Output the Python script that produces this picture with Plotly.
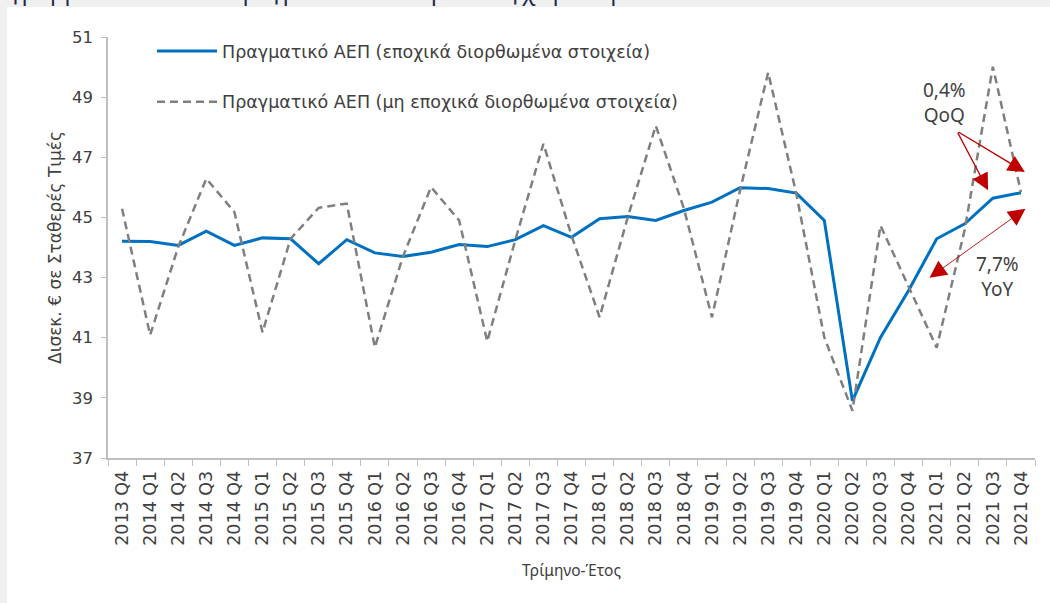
import plotly.graph_objects as go

quarters = ["2013 Q4",
            "2014 Q1", "2014 Q2", "2014 Q3", "2014 Q4",
            "2015 Q1", "2015 Q2", "2015 Q3", "2015 Q4",
            "2016 Q1", "2016 Q2", "2016 Q3", "2016 Q4",
            "2017 Q1", "2017 Q2", "2017 Q3", "2017 Q4",
            "2018 Q1", "2018 Q2", "2018 Q3", "2018 Q4",
            "2019 Q1", "2019 Q2", "2019 Q3", "2019 Q4",
            "2020 Q1", "2020 Q2", "2020 Q3", "2020 Q4",
            "2021 Q1", "2021 Q2", "2021 Q3", "2021 Q4"]

gdp_sa = [44.21,
          44.20, 44.07, 44.54, 44.07,
          44.32, 44.29, 43.46, 44.26,
          43.82, 43.70, 43.84, 44.10,
          44.03, 44.26, 44.73, 44.34,
          44.96, 45.03, 44.90, 45.23,
          45.51, 45.99, 45.96, 45.81,
          44.90, 38.90, 41.01, 42.57,
          44.29, 44.79, 45.64, 45.82]

gdp_nsa = [45.29,
           41.09, 44.02, 46.29, 45.18,
           41.18, 44.29, 45.32, 45.46,
           40.68, 43.70, 46.01, 44.90,
           40.88, 44.25, 47.45, 44.40,
           41.68, 45.00, 48.05, 45.30,
           41.68, 45.90, 49.82, 45.80,
           41.01, 38.57, 44.73, 42.70,
           40.67, 44.60, 50.01, 45.84]

name_sa = "Πραγματικό ΑΕΠ (εποχικά διορθωμένα στοιχεία)"
name_nsa = "Πραγματικό ΑΕΠ (μη εποχικά διορθωμένα στοιχεία)"
title_text = "Διάγραμμα 4: Ελλάδα – Πραγματικό Ακαθάριστο Εγχώριο Προϊόν"

FONT = "DejaVu Sans"
FONT2 = "Noto Sans"
TXT = "#404040"
RED = "#C00000"

fig = go.Figure()
fig.add_trace(go.Scatter(x=quarters, y=gdp_sa, mode="lines", name=name_sa,
                         legendgroup="a",
                         line=dict(color="#0070C0", width=3)))
fig.add_trace(go.Scatter(x=quarters, y=gdp_nsa, mode="lines", name=name_nsa,
                         legendgroup="b",
                         line=dict(color="#7F7F7F", width=2.5, dash="8px,5px")))

W, H = 1050, 603
PW, PH = 927, 421
fig.update_layout(
    width=W, height=H,
    paper_bgcolor="#F0F0F0",
    plot_bgcolor="white",
    margin=dict(l=108, r=15, t=37, b=145),
    font=dict(family=FONT, color=TXT, size=15),
    showlegend=True,
    legend=dict(x=(152 - 108) / PW, y=1 + 4 / PH, xanchor="left", yanchor="top",
                bgcolor="rgba(0,0,0,0)", font=dict(size=17.5, color=TXT, family=FONT),
                tracegroupgap=25, itemwidth=60),
    xaxis=dict(type="category", range=[-0.5, 32.5], tickangle=-90,
               showline=True, linecolor="#BFBFBF", linewidth=1.5,
               ticks="outside", ticklen=6, tickcolor="#BFBFBF", tickson="boundaries",
               showgrid=False, zeroline=False, ticklabelstandoff=4,
               tickfont=dict(size=17.5, color=TXT),
               title=dict(text="Τρίμηνο-Έτος", font=dict(size=15.5, color=TXT, family=FONT2),
                          standoff=20)),
    yaxis=dict(range=[37, 51], tickvals=[37, 39, 41, 43, 45, 47, 49, 51],
               showline=True, linecolor="#BFBFBF", linewidth=1.5,
               ticks="outside", ticklen=5, tickcolor="#BFBFBF",
               showgrid=False, zeroline=False,
               tickfont=dict(size=16.5, color=TXT), ticklabelstandoff=5,
               title=dict(text="Δισεκ. € σε Σταθερές Τιμές", font=dict(size=17, color=TXT),
                          standoff=6)),
)

# white panel
fig.add_shape(type="rect", xref="paper", yref="paper",
              x0=-101 / PW, x1=1 + 15 / PW, y0=-145 / PH, y1=1 + 30 / PH,
              fillcolor="white", line=dict(width=0), layer="below")

# cropped title
fig.add_annotation(xref="paper", yref="paper", x=(673 - 108) / PW, y=1 + 28 / PH,
                   xanchor="right", yanchor="bottom", showarrow=False,
                   text=title_text, font=dict(size=23, color="#1F2A4A", family=FONT2))

# QoQ annotation
fig.add_annotation(x=29.29, y=48.83, text="0,4%<br>QoQ", showarrow=False,
                   font=dict(size=19, color=TXT, family=FONT2))
for tx, ty in [(30.83, 45.9), (32.14, 46.51)]:
    fig.add_annotation(x=tx, y=ty, ax=29.72, ay=47.87, axref="x", ayref="y",
                       text="", showarrow=True, arrowhead=2, arrowsize=2.6,
                       arrowwidth=1.3, arrowcolor=RED)

# YoY annotation
fig.add_annotation(x=31.17, y=43.03, text="7,7%<br>YoY", showarrow=False,
                   font=dict(size=19, color=TXT, family=FONT2))
fig.add_annotation(x=32.16, y=45.29, ax=28.69, ay=42.96, axref="x", ayref="y",
                   text="", showarrow=True, arrowhead=2, arrowsize=3.8,
                   arrowwidth=0.9, arrowcolor=RED, arrowside="end+start")

fig.write_html("out.html", config={"displayModeBar": False},
               post_script="document.body.style.margin='0';document.body.style.overflow='hidden';")
